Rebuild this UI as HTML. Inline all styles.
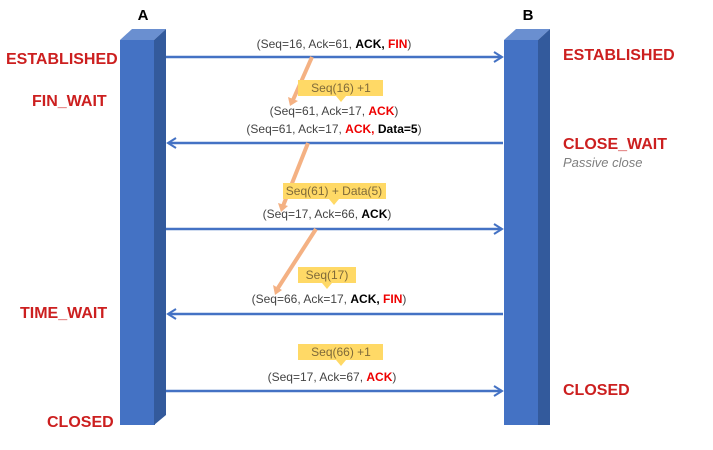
<!DOCTYPE html>
<html><head><style>
body{margin:0;background:#fff;}
svg text{font-family:"Liberation Sans",sans-serif;}
</style></head><body>
<svg width="713" height="445" viewBox="0 0 713 445" xmlns="http://www.w3.org/2000/svg">
<defs>
<marker id="ah" markerWidth="12" markerHeight="12" refX="10" refY="6" orient="auto" markerUnits="userSpaceOnUse">
<path d="M2,1 L10,6 L2,11" fill="none" stroke="#4472c4" stroke-width="2"/>
</marker>
</defs>
<polygon points="120,40 132,29 166,29 154,40" fill="#6a8fd0"/>
<rect x="120" y="40" width="35" height="385" fill="#4472c4"/>
<polygon points="154,40 166,29 166,415 154,425" fill="#335a9c"/>
<polygon points="504,40 516,29 550,29 538,40" fill="#6a8fd0"/>
<rect x="504" y="40" width="35" height="385" fill="#4472c4"/>
<polygon points="538,40 550,29 550,425 538,425" fill="#335a9c"/>
<text x="143" y="20" font-size="15" font-weight="bold" text-anchor="middle">A</text>
<text x="528" y="20" font-size="15" font-weight="bold" text-anchor="middle">B</text>
<g stroke="#4472c4" stroke-width="2.5" marker-end="url(#ah)">
<line x1="166" y1="57" x2="502" y2="57"/>
<line x1="503" y1="143" x2="168" y2="143"/>
<line x1="166" y1="229" x2="502" y2="229"/>
<line x1="503" y1="314" x2="168" y2="314"/>
<line x1="166" y1="391" x2="502" y2="391"/>
</g>
<g stroke="#f4b183" stroke-width="4">
<line x1="312" y1="57" x2="293" y2="100"/>
<line x1="308" y1="143" x2="283" y2="206"/>
<line x1="316" y1="229" x2="278" y2="288"/>
</g>
<g fill="#f4b183">
<polygon points="288,97 298,101 290,106"/>
<polygon points="278,203 288,206 281,212"/>
<polygon points="273,285 282,290 275,295"/>
</g>
<g fill="#ffd966">
<rect x="298" y="80" width="85" height="16"/><polygon points="336,96 346,96 341,102"/>
<rect x="283" y="183" width="103" height="16"/><polygon points="329,199 339,199 334,205"/>
<rect x="298" y="267" width="58" height="16"/><polygon points="322,283 332,283 327,289"/>
<rect x="298" y="344" width="85" height="16"/><polygon points="336,360 346,360 341,366"/>
</g>
<g font-size="12" fill="#7f6a3a" text-anchor="middle">
<text x="341" y="92">Seq(16) +1</text>
<text x="334" y="195">Seq(61) + Data(5)</text>
<text x="327" y="279">Seq(17)</text>
<text x="341" y="356">Seq(66) +1</text>
</g>
<g font-size="12" fill="#444" text-anchor="middle">
<text x="334" y="48">(Seq=16, Ack=61, <tspan font-weight="bold" fill="#000">ACK,</tspan> <tspan font-weight="bold" fill="#e00">FIN</tspan>)</text>
<text x="334" y="115">(Seq=61, Ack=17, <tspan font-weight="bold" fill="#e00">ACK</tspan>)</text>
<text x="334" y="133">(Seq=61, Ack=17, <tspan font-weight="bold" fill="#e00">ACK,</tspan> <tspan font-weight="bold" fill="#000">Data=5</tspan>)</text>
<text x="327" y="218">(Seq=17, Ack=66, <tspan font-weight="bold" fill="#000">ACK</tspan>)</text>
<text x="329" y="303">(Seq=66, Ack=17, <tspan font-weight="bold" fill="#000">ACK,</tspan> <tspan font-weight="bold" fill="#e00">FIN</tspan>)</text>
<text x="332" y="381">(Seq=17, Ack=67, <tspan font-weight="bold" fill="#e00">ACK</tspan>)</text>
</g>
<g font-size="16" font-weight="bold" fill="#cc1f1f">
<text x="6" y="64">ESTABLISHED</text>
<text x="32" y="106">FIN_WAIT</text>
<text x="20" y="318">TIME_WAIT</text>
<text x="47" y="427">CLOSED</text>
<text x="563" y="60">ESTABLISHED</text>
<text x="563" y="149">CLOSE_WAIT</text>
<text x="563" y="395">CLOSED</text>
</g>
<text x="563" y="167" font-size="13" font-style="italic" fill="#7f7f7f">Passive close</text>
</svg>
</body></html>
